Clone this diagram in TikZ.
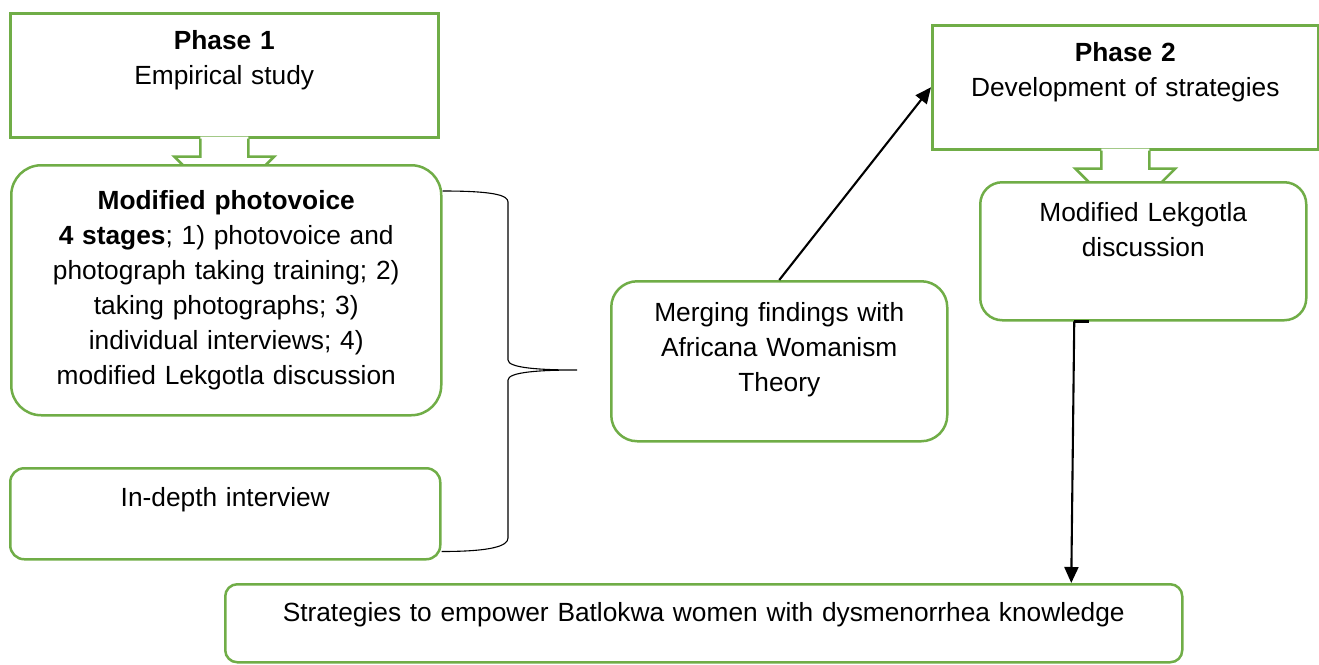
\documentclass[tikz,border=0pt]{standalone}
\usepackage{fontspec}
\setmainfont{Liberation Sans}
\usetikzlibrary{arrows.meta,calc}
\definecolor{boxgreen}{HTML}{70AD47}

\begin{document}
\begin{tikzpicture}[x=1pt,y=-1pt,
  box/.style={draw=boxgreen, line width=2.5pt, fill=white, inner sep=0pt, anchor=north west},
  rbox/.style={box, rounded corners=#1},
  txt/.style={font=\fontsize{26.3}{35}\selectfont, align=center, inner sep=0pt, anchor=base, text width=#1},
  blockline/.style={draw=boxgreen, line width=2.5pt, line join=miter},
  conn/.style={line width=2.1pt, draw=black},
  brace/.style={line width=1.1pt, draw=black},
  tip/.style={-{Triangle[length=16pt,width=14pt]}}
]
\useasboundingbox (0,0) rectangle (1319,664);

% Phase 1 and its block arrow
\node[box, minimum width=428pt, minimum height=124pt] (p1) at (9,12) {};
\begin{scope}[shift={(p1.south)}]
  \fill[white] (-24,-2) -- (-24,18) -- (-50,18) -- (0,68) -- (50,18) -- (24,18) -- (24,-2) -- cycle;
  \draw[blockline] (-24,0) -- (-24,18) -- (-50,18) -- (0,68) -- (50,18) -- (24,18) -- (24,0);
\end{scope}

% Phase 1 boxes
\node[rbox=30pt, minimum width=430pt, minimum height=250pt] (pv) at (10,164) {};
\node[rbox=14pt, minimum width=430pt, minimum height=91pt] (id) at (9,467) {};

% middle box
\node[rbox=26pt, minimum width=336pt, minimum height=160pt] (mg) at (610,280) {};

% Phase 2 and its block arrow
\node[box, minimum width=386pt, minimum height=124pt] (p2) at (931,24) {};
\begin{scope}[shift={(p2.south)}]
  \fill[white] (-24,-2) -- (-24,18) -- (-50,18) -- (0,68) -- (50,18) -- (24,18) -- (24,-2) -- cycle;
  \draw[blockline] (-24,0) -- (-24,18) -- (-50,18) -- (0,68) -- (50,18) -- (24,18) -- (24,0);
\end{scope}
\node[rbox=22pt, minimum width=326pt, minimum height=138pt] (lk) at (979,181) {};

% result box
\node[rbox=12pt, minimum width=957pt, minimum height=78pt] (st) at (224,583) {};

% texts
\node[txt=420pt] (p1t) at ($(p1.north)+(0,37)$) {\textbf{Phase 1}\\Empirical study};
\node[txt=425pt] (pvt) at ($(pv.north)+(0,45)$) {\textbf{Modified photovoice}\\\textbf{4 stages}; 1) photovoice and\\photograph taking training; 2)\\taking photographs; 3)\\individual interviews; 4)\\modified Lekgotla discussion};
\node[txt=420pt] (idt) at ($(id.north)+(0,39)$) {In-depth interview};
\node[txt=330pt] (mgt) at ($(mg.north)+(0,41)$) {Merging findings with\\Africana Womanism\\Theory};
\node[txt=380pt] (p2t) at ($(p2.north)+(0,37)$) {\textbf{Phase 2}\\Development of strategies};
\node[txt=320pt] (lkt) at ($(lk.north)+(0,40)$) {Modified Lekgotla\\discussion};
\node[txt=950pt] (stt) at ($(st.north)+(0,38)$) {Strategies to empower Batlokwa women with dysmenorrhea knowledge};

% brace grouping the two Phase 1 methods
\coordinate (bA) at ($(pv.north east)+(0,27)$);
\coordinate (bB) at ($(id.south east)+(0,-9)$);
\coordinate (bT) at (577,370);
\draw[brace] (bA) .. controls +(50,0) and +(0,-7) .. (508,202) -- (508,360)
  .. controls +(0,8) and +(-37,0) .. (bT)
  .. controls +(-37,0) and +(0,-8) .. (508,380) -- (508,538)
  .. controls +(0,8) and +(50,0) .. (bB);

% connectors
\draw[conn, tip] (mg.north) -- (p2.west);
\coordinate (lkb) at ($(lk.south)+(-69,0)$);
\coordinate (stin) at ($(st.north)+(367.5,0)$);
\draw[conn] (lkb) -- ++(15,0);
\draw[conn, tip] (lkb) -- (stin);
\end{tikzpicture}
\end{document}
